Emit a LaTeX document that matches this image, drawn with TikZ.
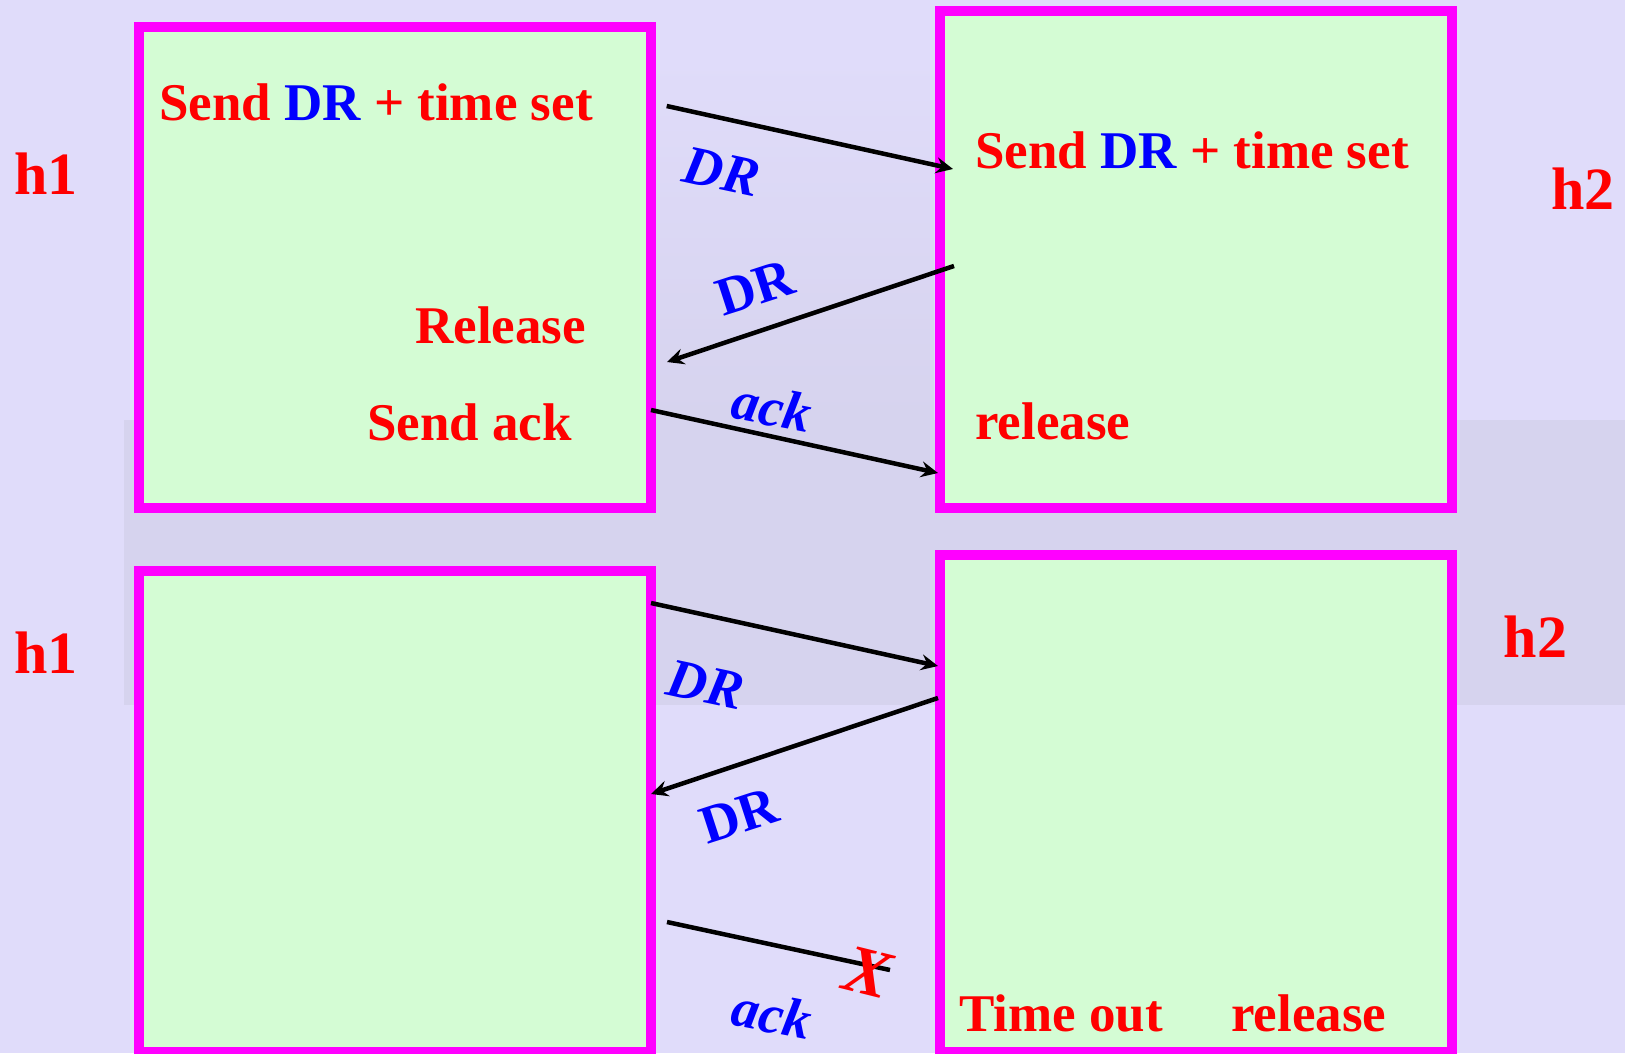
\documentclass[tikz,border=0pt]{standalone}
\usepackage{fontspec}
\setmainfont{Liberation Serif}
\usetikzlibrary{arrows.meta}
\definecolor{bgcol}{RGB}{224,220,250}
\definecolor{photocol}{RGB}{214,211,238}
\definecolor{boxfill}{RGB}{212,252,212}
\definecolor{boxline}{RGB}{255,0,255}
\definecolor{txtred}{RGB}{255,0,0}
\definecolor{txtblue}{RGB}{0,0,255}

\begin{document}
\begin{tikzpicture}[x=1pt,y=-1pt,
  hostbox/.style={draw=boxline, fill=boxfill, line width=10pt, rectangle,
    inner sep=0pt, minimum width=512pt},
  evt/.style={anchor=base west, inner sep=0pt, text=txtred,
    font=\fontsize{53}{60}\selectfont\bfseries},
  host/.style={anchor=base west, inner sep=0pt, text=txtred,
    font=\fontsize{60}{66}\selectfont\bfseries},
  msg/.style={inner sep=0pt, text=txtblue,
    font=\fontsize{55}{60}\selectfont\bfseries\itshape},
  msgup/.style={inner sep=0pt, text=txtblue,
    font=\fontsize{54}{60}\selectfont\bfseries},
  pkt/.style={line width=4.5pt, -{Stealth[length=17pt,width=16pt,inset=6pt]}},
  lost/.style={line width=4.5pt},
]
\useasboundingbox (0,0) rectangle (1625,1053);

% slide background with the faded photograph behind it
\fill[bgcol] (0,0) rectangle (1625,1053);
\shade[top color=bgcol, bottom color=photocol] (656,55) rectangle (934,420);
\fill[photocol] (124,420) rectangle (1625,705);

% host timelines
\node[hostbox, minimum height=481pt] (h1top) at (395,267) {};
\node[hostbox, minimum height=497pt] (h2top) at (1195.5,259) {};
\node[hostbox, minimum height=481pt] (h1bot) at (395,811) {};
\node[hostbox, minimum height=497pt] (h2bot) at (1195.5,803.5) {};

% host names
\node[host] (n1a) at (14,194.6) {h1};
\node[host] (n2a) at (1551,209.4) {h2};
\node[host] (n1b) at (14,673.6) {h1};
\node[host] (n2b) at (1503.5,657.7) {h2};

% events, normal release
\node[evt] (e1) at (159,120.5) {Send \textcolor{txtblue}{DR} + time set};
\node[evt] (e2) at (415,343) {Release};
\node[evt] (e3) at (367,440) {Send ack};
\node[evt] (e4) at (975,168) {Send \textcolor{txtblue}{DR} + time set};
\node[evt] (e5) at (975,439) {release};

% events, lost ack
\node[evt] (e6) at (959,1031) {Time out};
\node[evt] (e7) at (1231,1031) {release};

% message end points
\coordinate (a1s) at (666.7,106);  \coordinate (a1e) at (953,169);
\coordinate (a2s) at (954,266);    \coordinate (a2e) at (667,362);
\coordinate (a3s) at (651,410);    \coordinate (a3e) at (938,473);
\coordinate (a4s) at (651,603);    \coordinate (a4e) at (938,666);
\coordinate (a5s) at (938,698);    \coordinate (a5e) at (651,794);
\coordinate (a6s) at (667,922);    \coordinate (a6e) at (890,970);

% messages
\draw[pkt] (a1s) -- (a1e);
\draw[pkt] (a2s) -- (a2e);
\draw[pkt] (a3s) -- (a3e);
\draw[pkt] (a4s) -- (a4e);
\draw[pkt] (a5s) -- (a5e);
\draw[lost] (a6s) -- (a6e);

% message labels
\node[msg, rotate=-12] (m1) at (722,172) {DR};
\node[msgup, rotate=18] (m2) at (755,288) {DR};
\node[msg, rotate=-11] (m3) at (772,407) {ack};
\node[msg, rotate=-12] (m4) at (706,685) {DR};
\node[msgup, rotate=18] (m5) at (739,816) {DR};
\node[msg, rotate=-11] (m6) at (772,1014) {ack};

% the lost ack
\node[inner sep=0pt, text=txtred, rotate=-14,
  font=\fontsize{68}{72}\selectfont\bfseries\itshape] (lostx) at (868,972) {X};

\end{tikzpicture}
\end{document}
